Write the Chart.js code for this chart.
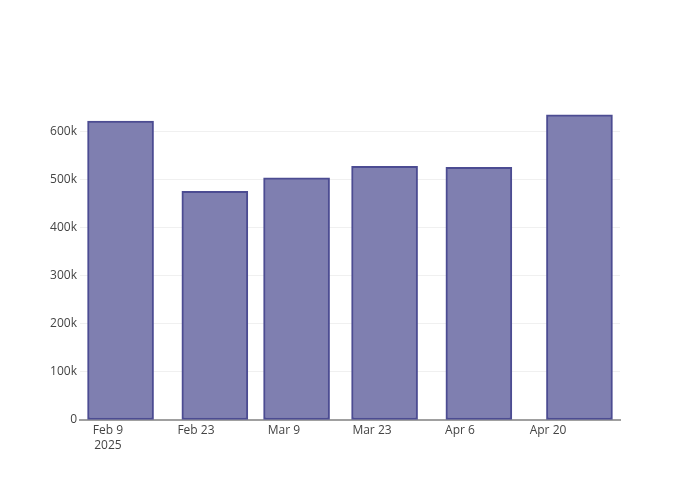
<!DOCTYPE html>
<html>
<head>
<meta charset="utf-8">
<script src="https://cdn.jsdelivr.net/npm/chart.js@4"></script>
<style>
  html, body { margin: 0; padding: 0; background: #fff; }
  canvas { display: block; }
</style>
</head>
<body>
<canvas id="chart" width="700" height="500"></canvas>
<script>
// days after Feb 9 2025 where each bar sits
const barDays = [2, 17, 30, 44, 59, 75];
const barValues = [622000, 476000, 504000, 528000, 526000, 635000];

const tickDays = [0, 14, 28, 42, 56, 70];
const tickLabels = [['Feb 9', '2025'], 'Feb 23', 'Mar 9', 'Mar 23', 'Apr 6', 'Apr 20'];
const yTicks = [0, 100000, 200000, 300000, 400000, 500000, 600000];

const textColor = '#444';
const font = { family: '"Open Sans", sans-serif', size: 12 };

const ctx = document.getElementById('chart').getContext('2d');

new Chart(ctx, {
  type: 'bar',
  data: {
    datasets: [{
      data: barDays.map((d, i) => ({ x: d, y: barValues[i] })),
      backgroundColor: 'rgba(127, 127, 176, 1)',
      borderColor: 'rgb(76, 76, 146)',
      borderWidth: 2,
      borderSkipped: false,
      barThickness: 66
    }]
  },
  options: {
    responsive: false,
    animation: false,
    layout: { padding: { top: 100, right: 80, left: 0, bottom: 0 } },
    plugins: {
      legend: { display: false },
      tooltip: { enabled: false }
    },
    scales: {
      x: {
        type: 'linear',
        min: -4.45,
        max: 81.45,
        offset: false,
        afterBuildTicks: (scale) => {
          scale.ticks = tickDays.map(v => ({ value: v }));
        },
        afterFit: (scale) => { scale.height = 80; },
        grid: { display: false, drawTicks: false },
        border: { display: true, color: '#a0a0a0', width: 2 },
        ticks: {
          autoSkip: false,
          maxRotation: 0,
          padding: 3,
          color: textColor,
          font: { ...font, lineHeight: 1.25 },
          callback: (value) => {
            const i = tickDays.indexOf(value);
            return i >= 0 ? tickLabels[i] : '';
          }
        }
      },
      y: {
        min: 0,
        max: 666000,
        afterBuildTicks: (scale) => {
          scale.ticks = yTicks.map(v => ({ value: v }));
        },
        afterFit: (scale) => { scale.width = 80; },
        grid: {
          color: (c) => c.tick && c.tick.value === 0 ? 'rgba(0,0,0,0)' : '#f0f0f0',
          lineWidth: 1,
          drawTicks: false
        },
        border: { display: false },
        ticks: {
          padding: 3,
          color: textColor,
          font: font,
          callback: (value) => value === 0 ? '0' : (value / 1000) + 'k'
        }
      }
    }
  }
});
</script>
</body>
</html>
